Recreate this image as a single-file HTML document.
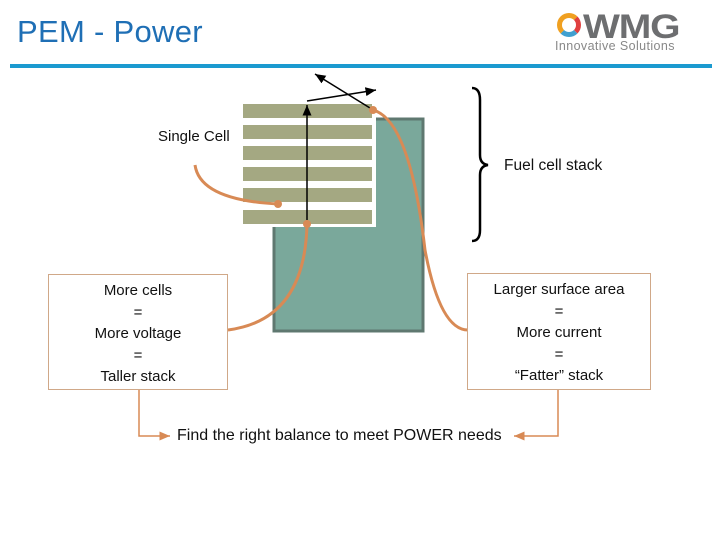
<!DOCTYPE html>
<html><head><style>
body{margin:0;width:720px;height:540px;background:#fff;position:relative;overflow:hidden;font-family:"Liberation Sans",sans-serif}
.t{position:absolute;font-size:15px;color:#111;white-space:nowrap}
.box{position:absolute;border:1px solid #d0a888;text-align:center;font-size:15px;line-height:21.5px;color:#111;box-sizing:border-box}
</style></head><body>
<div class="t" style="left:17px;top:14px;font-size:31px;color:#1f6fb5;letter-spacing:0.3px">PEM - Power</div>
<div style="position:absolute;left:583px;top:8px;font-size:34px;font-weight:bold;color:#6d6e70;letter-spacing:-1px;transform:scaleX(1.15);transform-origin:left">WMG</div>
<div style="position:absolute;left:555px;top:39px;font-size:12.5px;color:#888;letter-spacing:0.4px">Innovative Solutions</div>
<div style="position:absolute;left:557px;top:13px;width:24px;height:24px;border-radius:50%;border:5px solid #f0a020;border-right-color:#e04040;border-bottom-color:#40a0d0;box-sizing:border-box"></div>
<div style="position:absolute;left:10px;top:64px;width:702px;height:4px;background:#1b9ad0"></div>
<svg width="720" height="540" style="position:absolute;left:0;top:0">
<defs><marker id="a" markerWidth="8" markerHeight="8" refX="7" refY="4" orient="auto"><path d="M0,1L7,4L0,7z" fill="#000"/></marker>
<marker id="o" markerWidth="8" markerHeight="8" refX="7" refY="4" orient="auto"><path d="M0,1L7,4L0,7z" fill="#d88a55"/></marker></defs>
<rect x="274" y="119" width="149" height="212" fill="#7aa89b" stroke="#5f7870" stroke-width="3"/>
<rect x="243" y="103" width="133" height="124" fill="#fff"/>
<g fill="#a4a882"><rect x="243" y="104" width="129" height="14"/><rect x="243" y="125" width="129" height="14"/><rect x="243" y="146" width="129" height="14"/><rect x="243" y="167" width="129" height="14"/><rect x="243" y="188" width="129" height="14"/><rect x="243" y="210" width="129" height="14"/></g>
<g stroke="#000" stroke-width="1.5" fill="none">
<line x1="307" y1="220" x2="307" y2="105" marker-end="url(#a)"/>
<line x1="307" y1="101" x2="376" y2="90" marker-end="url(#a)"/>
<line x1="370" y1="108" x2="315" y2="74" marker-end="url(#a)"/>
<path d="M472,88 Q480,88 480,100 L480,155 Q480,164 488,165 Q480,166 480,175 L480,230 Q480,241 472,241" stroke-width="2.5"/>
</g>
<g stroke="#d88a55" stroke-width="3" fill="none">
<path d="M195,165 Q200,200 278,204"/>
<path d="M307,224 Q305,320 228,330"/>
<path d="M373,110 Q410,120 425,250 Q440,330 468,330"/>
</g>
<g fill="#d88a55"><circle cx="278" cy="204" r="4"/><circle cx="307" cy="224" r="4"/><circle cx="373" cy="110" r="4"/></g>
<g stroke="#d88a55" stroke-width="1.5" fill="none">
<path d="M139,390 L139,436 L170,436" marker-end="url(#o)"/>
<path d="M558,390 L558,436 L514,436" marker-end="url(#o)"/>
</g>
</svg>
<div class="t" style="left:158px;top:128px">Single Cell</div>
<div class="t" style="left:504px;top:157px;font-size:15.5px">Fuel cell stack</div>
<div class="box" style="left:48px;top:274px;width:180px;height:116px;padding-top:5px">More cells<br>=<br>More voltage<br>=<br>Taller stack</div>
<div class="box" style="left:467px;top:273px;width:184px;height:117px;padding-top:5px">Larger surface area<br>=<br>More current<br>=<br>“Fatter” stack</div>
<div class="t" style="left:177px;top:427px;font-size:16px">Find the right balance to meet POWER needs</div>
</body></html>
